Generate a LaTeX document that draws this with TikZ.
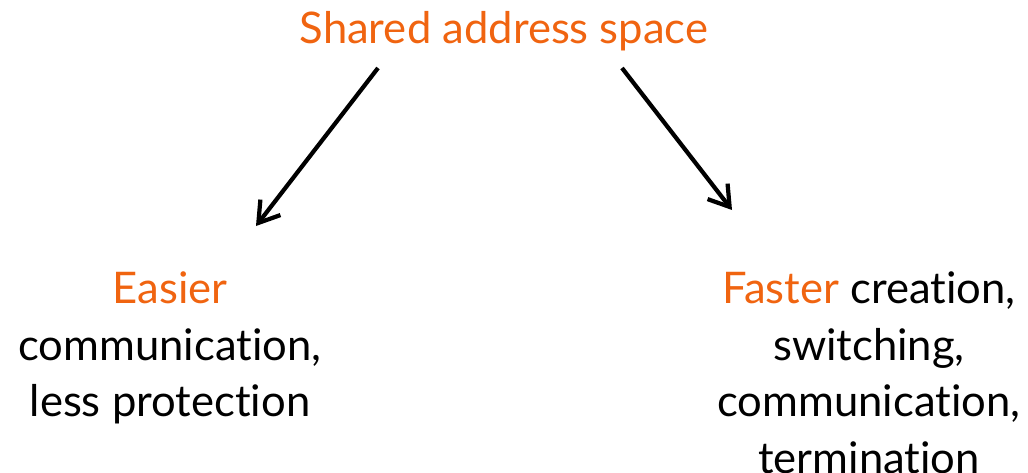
\documentclass[tikz,border=0pt]{standalone}
\usepackage{fontspec}
\setmainfont{Lato}[Ligatures={NoCommon}]
\usetikzlibrary{arrows.meta,positioning}
\definecolor{hiorange}{RGB}{240,100,16}

\begin{document}
\begin{tikzpicture}[x=0.025cm, y=-0.025cm,
    txt/.style={align=center, font=\fontsize{31}{40.5}\selectfont, inner sep=0pt},
    arr/.style={-{Straight Barb[length=14pt, width=18pt, line width=3pt]}, line width=3pt}
]
\useasboundingbox (0,0) rectangle (1028,473);
\node[txt, text=hiorange] (shared) at (504,31) {Shared address space};
\node[txt, anchor=north] (easier) at (170,271) {\textcolor{hiorange}{Easier}\\communication,\\less protection};
\node[txt, anchor=north] (faster) at (869,271) {\textcolor{hiorange}{Faster} creation,\\switching,\\communication,\\termination};

% arrow ends
\coordinate (lstart) at (378,68);
\coordinate (lend) at (256,226);
\coordinate (rstart) at (622,68);
\coordinate (rend) at (732,210);
\draw[arr] (lstart) -- (lend);
\draw[arr] (rstart) -- (rend);
\end{tikzpicture}
\end{document}
